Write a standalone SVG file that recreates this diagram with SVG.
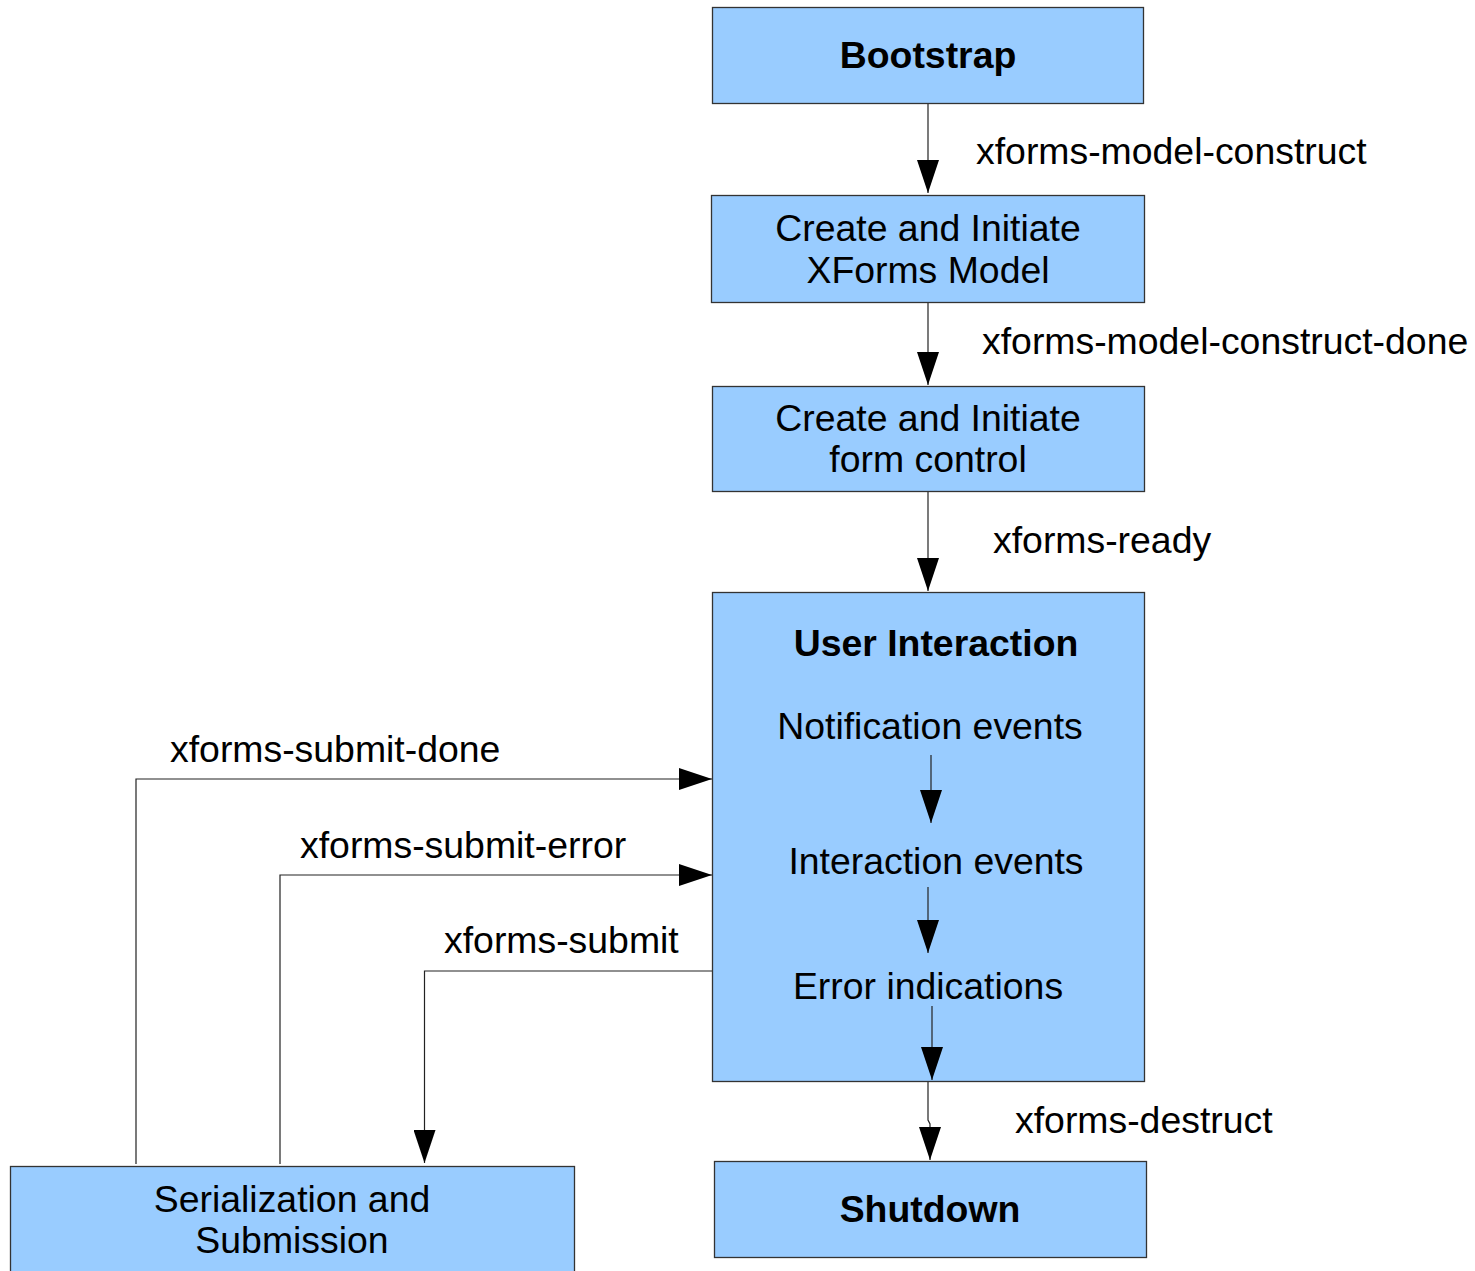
<svg xmlns="http://www.w3.org/2000/svg" width="1475" height="1271" viewBox="0 0 1475 1271">
<style>
.box{fill:#99ccff;stroke:#333;stroke-width:1.3}
.t{font-family:"Liberation Sans",Arial,sans-serif;font-size:37.4px;fill:#000}
.b{font-weight:bold}
.m{text-anchor:middle}
.c{fill:none;stroke:#222;stroke-width:1.2}
</style>
<defs>
<marker id="ah" viewBox="0 0 33 22" refX="33" refY="11" markerWidth="33" markerHeight="22" markerUnits="userSpaceOnUse" orient="auto">
<path d="M0,0 L33,11 L0,22 z" fill="#000"/>
</marker>
</defs>
<rect width="1475" height="1271" fill="#fff"/>
<g id="bootstrap"><rect class="box" x="712.5" y="7.5" width="431" height="96"/><text class="t b m" x="928" y="68">Bootstrap</text></g>
<g id="create-model"><rect class="box" x="711.5" y="195.5" width="433" height="107"/><text class="t m" x="928" y="241">Create and Initiate</text><text class="t m" x="928" y="283">XForms Model</text></g>
<g id="create-control"><rect class="box" x="712.5" y="386.5" width="432" height="105"/><text class="t m" x="928" y="431">Create and Initiate</text><text class="t m" x="928" y="472">form control</text></g>
<g id="user-interaction"><rect class="box" x="712.5" y="592.5" width="432" height="489"/>
<text class="t b m" x="936" y="656">User Interaction</text>
<text class="t m" x="930" y="739">Notification events</text>
<text class="t m" x="936" y="874">Interaction events</text>
<text class="t m" x="928" y="999">Error indications</text>
</g>
<g id="shutdown"><rect class="box" x="714.5" y="1161.5" width="432" height="96"/><text class="t b m" x="930" y="1222">Shutdown</text></g>
<g id="serialization"><rect class="box" x="10.5" y="1166.5" width="564" height="120"/><text class="t m" x="292" y="1212">Serialization and</text><text class="t m" x="292" y="1253">Submission</text></g>
<g id="connectors">
<path class="c" d="M928,104 L928,193" marker-end="url(#ah)"/>
<path class="c" d="M928,303 L928,385" marker-end="url(#ah)"/>
<path class="c" d="M928,492 L928,591" marker-end="url(#ah)"/>
<path class="c" d="M931,755 L931,823" marker-end="url(#ah)"/>
<path class="c" d="M928,887 L928,953" marker-end="url(#ah)"/>
<path class="c" d="M932,1006 L932,1080" marker-end="url(#ah)"/>
<path class="c" d="M928,1082 L928,1120 L930,1124 L930,1160" marker-end="url(#ah)"/>
<path class="c" d="M136,1164 L136,779 L712,779" marker-end="url(#ah)"/>
<path class="c" d="M280,1164 L280,875 L712,875" marker-end="url(#ah)"/>
<path class="c" d="M712,971 L424.5,971 L424.5,1163" marker-end="url(#ah)"/>
<text class="t" x="976" y="164">xforms-model-construct</text>
<text class="t" x="982" y="354">xforms-model-construct-done</text>
<text class="t" x="993" y="553">xforms-ready</text>
<text class="t" x="1015" y="1133">xforms-destruct</text>
<text class="t" x="170" y="762">xforms-submit-done</text>
<text class="t" x="300" y="858">xforms-submit-error</text>
<text class="t" x="444" y="953">xforms-submit</text>
</g>
</svg>
